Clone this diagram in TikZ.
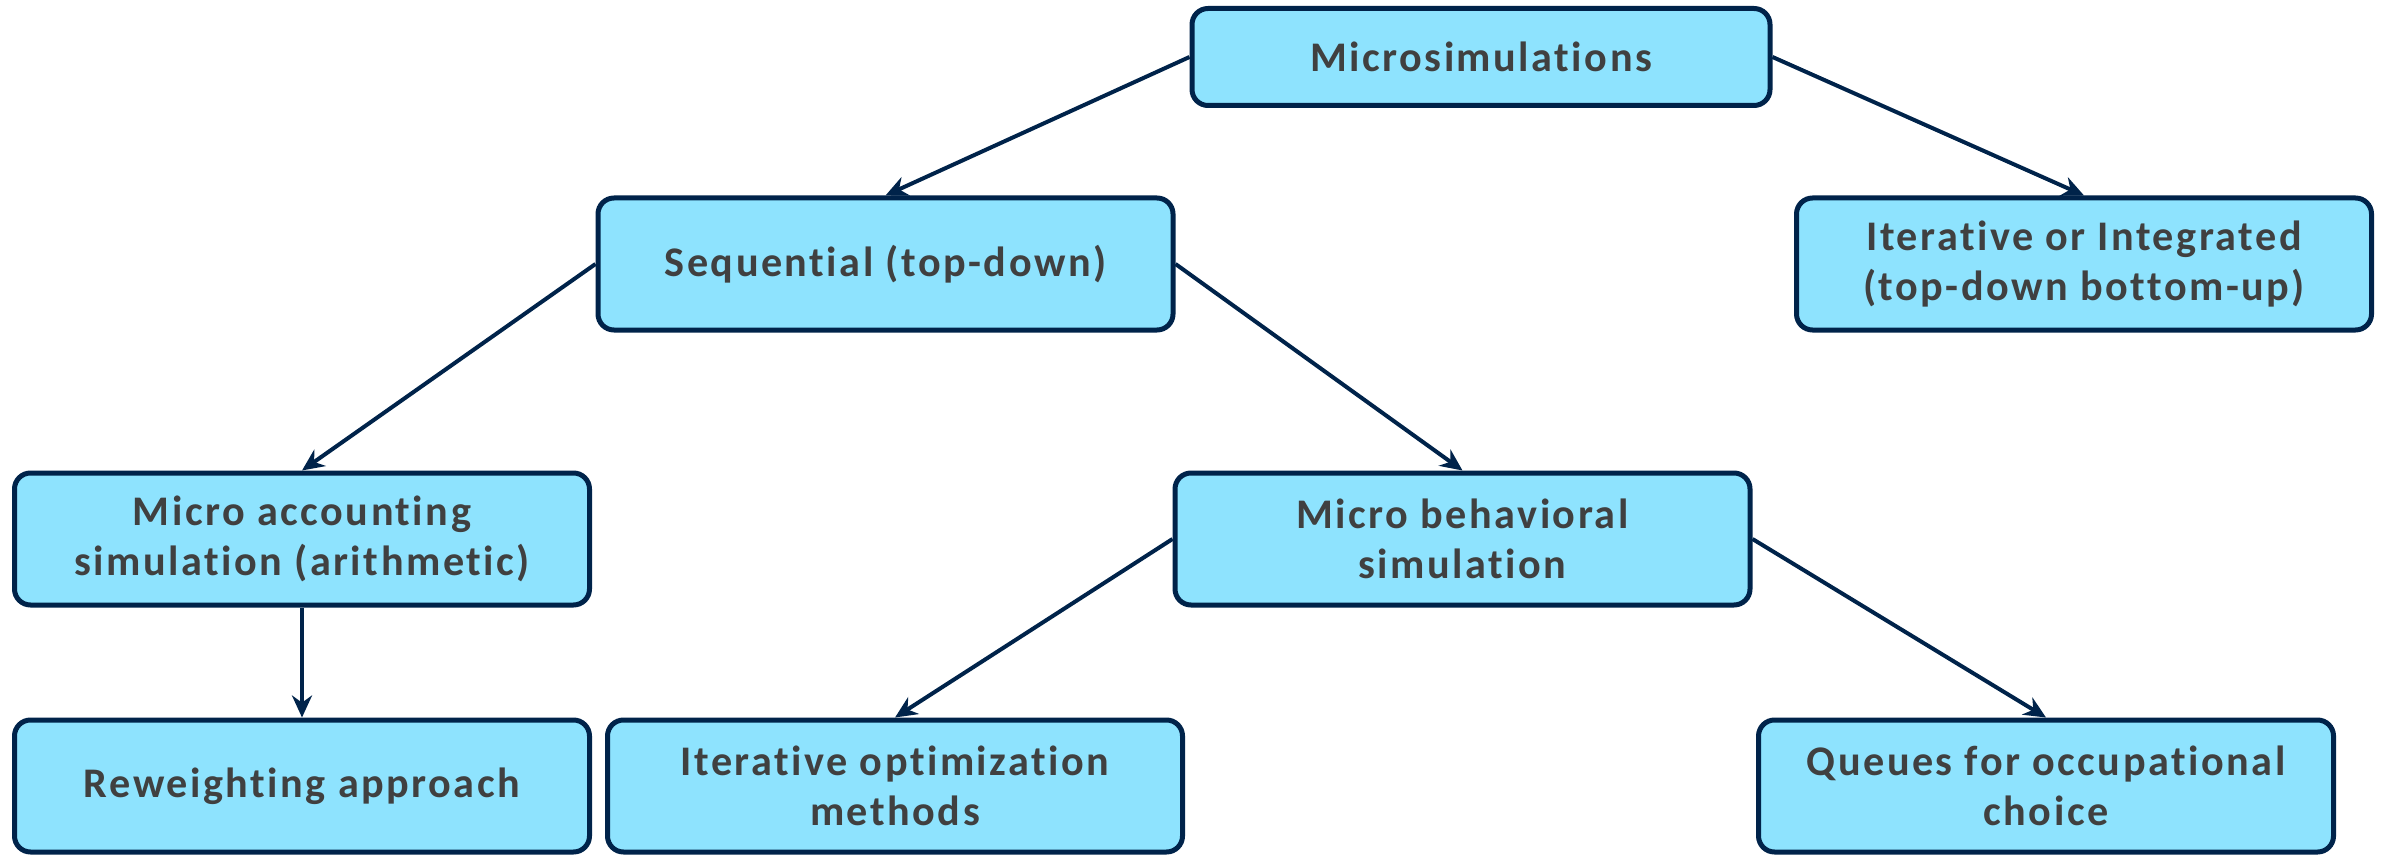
\documentclass[tikz,border=0pt]{standalone}
\usepackage{fontspec}
\setmainfont{Carlito}[LetterSpace=6, Ligatures=NoCommon]
\usetikzlibrary{arrows.meta}

\definecolor{boxfill}{HTML}{8EE3FE}
\definecolor{boxline}{HTML}{00234A}
\definecolor{boxtext}{HTML}{404040}

\tikzset{
    simbox/.style={draw=boxline, line width=0.5mm, fill=boxfill, rounded corners=0.16cm,
        minimum width=5.75cm, minimum height=1.32cm, align=center, text=boxtext,
        font=\fontsize{12}{14.2}\selectfont\bfseries},
    simarrow/.style={draw=boxline, line width=0.4mm, -{Stealth[length=2.2mm, width=2mm]}}
}

\begin{document}
\begin{tikzpicture}
    \useasboundingbox (0, 0) rectangle (23.82, 8.54);

    % top box
    \node[simbox, minimum width=5.78cm, minimum height=0.97cm] (micro) at (14.81, 7.97) {Microsimulations};

    % second row
    \node[simbox] (seq) at (8.855, 5.90) {Sequential (top-down)};
    \node[simbox] (integ) at (20.84, 5.90) {Iterative or Integrated\\(top-down bottom-up)};

    % third row
    \node[simbox] (account) at (3.02, 3.15) {Micro accounting\\simulation (arithmetic)};
    \node[simbox] (behav) at (14.625, 3.15) {Micro behavioral\\simulation};

    % bottom row
    \node[simbox] (reweight) at (3.02, 0.68) {Reweighting approach};
    \node[simbox] (optim) at (8.95, 0.68) {Iterative optimization\\methods};
    \node[simbox] (queues) at (20.46, 0.68) {Queues for occupational\\choice};

    % connectors
    \draw[simarrow] (micro.west) -- (seq.north);
    \draw[simarrow] (micro.east) -- (integ.north);
    \draw[simarrow] (seq.west) -- (account.north);
    \draw[simarrow] (seq.east) -- (behav.north);
    \draw[simarrow] (account.south) -- (reweight.north);
    \draw[simarrow] (behav.west) -- (optim.north);
    \draw[simarrow] (behav.east) -- (queues.north);
\end{tikzpicture}
\end{document}
